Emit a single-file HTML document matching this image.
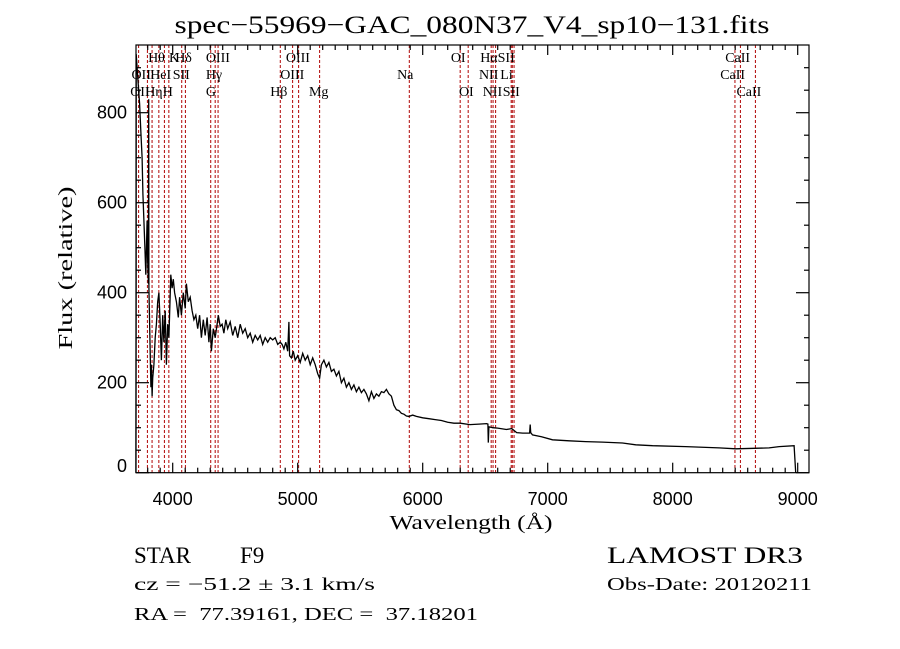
<!DOCTYPE html>
<html><head><meta charset="utf-8"><style>
html,body{margin:0;padding:0;background:#fff;}
svg{display:block;}
text{white-space:pre;}
</style></head><body>
<svg id="chart" width="900" height="649" viewBox="0 0 900 649" xmlns="http://www.w3.org/2000/svg" xml:space="preserve">
<rect x="0" y="0" width="900" height="649" fill="#fff"/>
<text x="472" y="33" text-anchor="middle" font-family="Liberation Serif, serif" font-size="25" textLength="595" lengthAdjust="spacingAndGlyphs">spec−55969−GAC_080N37_V4_sp10−131.fits</text>
<g id="lines"></g>
<g id="labels" font-family="Liberation Serif, serif" font-size="14"></g>
<g id="ticks"></g>
<polyline id="spec" fill="none" stroke="#000" stroke-width="1.3" stroke-linejoin="miter"/>
<rect x="136" y="45" width="673" height="427.7" fill="none" stroke="#000" stroke-width="1.2"/>
<text transform="translate(72,268) rotate(-90)" text-anchor="middle" font-family="Liberation Serif, serif" font-size="20" textLength="163" lengthAdjust="spacingAndGlyphs">Flux (relative)</text>
<text x="471" y="529" text-anchor="middle" font-family="Liberation Serif, serif" font-size="20" textLength="163" lengthAdjust="spacingAndGlyphs">Wavelength (Å)</text>
<text x="134" y="563" font-family="Liberation Serif, serif" font-size="23">STAR</text>
<text x="240" y="563" font-family="Liberation Serif, serif" font-size="23">F9</text>
<text x="134" y="590" font-family="Liberation Serif, serif" font-size="18" textLength="241" lengthAdjust="spacingAndGlyphs">cz = −51.2 ± 3.1 km/s</text>
<text x="134" y="620" font-family="Liberation Serif, serif" font-size="18" textLength="344" lengthAdjust="spacingAndGlyphs">RA =  77.39161, DEC =  37.18201</text>
<text x="607" y="563" font-family="Liberation Serif, serif" font-size="23" textLength="196" lengthAdjust="spacingAndGlyphs">LAMOST DR3</text>
<text x="607" y="590" font-family="Liberation Serif, serif" font-size="18" textLength="205" lengthAdjust="spacingAndGlyphs">Obs-Date: 20120211</text>
</svg>
<script>
const waves = [3706,3707,3708,3720,3735,3745,3755,3762,3770,3778,3785,3795,3800,3806,3808,3810,3818,3826,3830,3835,3840,3850,3860,3870,3880,3890,3900,3910,3920,3930,3940,3950,3960,3970,3985,3995,4005,4015,4030,4045,4055,4070,4085,4100,4110,4125,4140,4155,4170,4185,4200,4215,4230,4245,4260,4275,4290,4300,4310,4325,4340,4355,4365,4380,4395,4410,4425,4440,4460,4480,4500,4520,4540,4560,4580,4600,4620,4640,4660,4680,4700,4720,4740,4760,4780,4800,4820,4840,4860,4875,4890,4905,4920,4930,4935,4950,4965,4980,5000,5020,5040,5060,5080,5100,5120,5140,5160,5175,5190,5210,5230,5250,5270,5290,5310,5330,5350,5370,5390,5410,5430,5450,5470,5490,5510,5530,5550,5570,5590,5610,5630,5650,5670,5690,5710,5730,5750,5770,5790,5810,5830,5850,5870,5890,5920,5950,6000,6050,6100,6150,6200,6250,6300,6378,6450,6512,6522,6525,6530,6560,6600,6670,6712,6752,6800,6855,6860,6864,6878,6950,7038,7170,7304,7438,7598,7704,7838,8104,8371,8504,8771,8851,8971,8984,8986];
const flux = [0,360,930,880,820,760,700,620,560,500,440,560,470,420,830,410,300,190,240,170,210,240,300,330,380,400,330,250,350,290,360,240,330,300,440,410,430,400,380,345,390,350,400,365,420,380,390,360,340,350,320,350,300,340,305,345,290,330,270,320,300,330,350,325,330,310,340,320,335,305,325,300,330,310,320,300,310,290,305,295,305,285,300,290,300,295,300,285,290,285,275,290,270,335,260,255,270,250,260,245,265,250,260,240,255,240,220,210,240,250,235,245,225,230,215,225,200,210,190,200,185,195,180,190,178,185,175,160,180,165,175,170,180,178,185,175,170,150,140,138,132,130,126,125,128,125,122,120,118,116,112,110,110,107,108,109,108,67,102,100,99,96,98,89,88,88,107,89,84,80,73,71,69,68,66,62,60,58,55,53,55,58,60,0];
const lineWaves = [3727,3798,3835,3889,3934,3969,4072,4102,4304,4340,4363,4861,4959,5007,5175,5893,6300,6364,6548,6563,6583,6708,6717,6731,8498,8542,8662];
const labelText = ["Hθ","K","Hδ","OIII","OIII","OI","HαSII","CaII","OII","HeI","SII","Hγ","OIII","Na","NII","Li","CaII","OII","Hη","H","G","Hβ","Mg","OI","NII","SII","CaII"];
const labelWave = [3803,3970,4020,4265,4905,6225,6460,8420,3670,3820,4000,4265,4860,5795,6450,6620,8380,3660,3780,3920,4265,4780,5090,6290,6480,6640,8510];
const labelRow = [1,1,1,1,1,1,1,1,2,2,2,2,2,2,2,2,2,3,3,3,3,3,3,3,3,3,3];
const xTicks = [4000,5000,6000,7000,8000,9000];
const yTicks = [0,200,400,600,800];

const X0=136, X1=809, Y0=472.7, Y1=45;
function X(l){return 172.7+(l-4000)*0.125;}
function Y(f){return 472.7-f*0.45;}
const NS="http://www.w3.org/2000/svg";
function mk(t,a){const e=document.createElementNS(NS,t);for(const k in a)e.setAttribute(k,a[k]);return e;}

const lg=document.getElementById('lines');
lineWaves.forEach(w=>{
  const l=mk('line',{x1:X(w),x2:X(w),y1:Y1,y2:Y0,stroke:'#b81c1c','stroke-width':1.1,'stroke-dasharray':'3,2'});
  
  
  lg.appendChild(l);
});
const lbg=document.getElementById('labels');
const rowY=[0,62,79,96];
labelText.forEach((t,i)=>{
  const e=mk('text',{x:X(labelWave[i]),y:rowY[labelRow[i]]});
  e.textContent=t;
  
  
  lbg.appendChild(e);
});

const sp=document.getElementById('spec');
sp.setAttribute('points',waves.map((w,i)=>X(w).toFixed(1)+','+Y(flux[i]).toFixed(1)).join(' '));

const tg=document.getElementById('ticks');
function tick(a){const l=mk('line',Object.assign({stroke:'#000','stroke-width':1.2},a));tg.appendChild(l);}
for(let w=3800;w<=9000;w+=100){
  const x=X(w), major=(w%1000===0), len=major?10:5;
  tick({x1:x,x2:x,y1:Y0,y2:Y0-len}); tick({x1:x,x2:x,y1:Y1,y2:Y1+len});
}
for(let f=0;f<=900;f+=50){
  const y=Y(f), major=(f%200===0), len=major?13:5;
  tick({x1:X0,x2:X0+len,y1:y,y2:y}); tick({x1:X1,x2:X1-len,y1:y,y2:y});
}
xTicks.forEach(v=>{
  const e=mk('text',{x:X(v),y:505,'text-anchor':'middle','font-family':'Liberation Sans, sans-serif','font-size':18});
  e.textContent=v;
  
  
  tg.appendChild(e);
});
yTicks.forEach(v=>{
  const e=mk('text',{x:127,y:(v===0?472:Y(v)+6),'text-anchor':'end','font-family':'Liberation Sans, sans-serif','font-size':18});
  e.textContent=v;
  
  
  tg.appendChild(e);
});
</script>
</body></html>
